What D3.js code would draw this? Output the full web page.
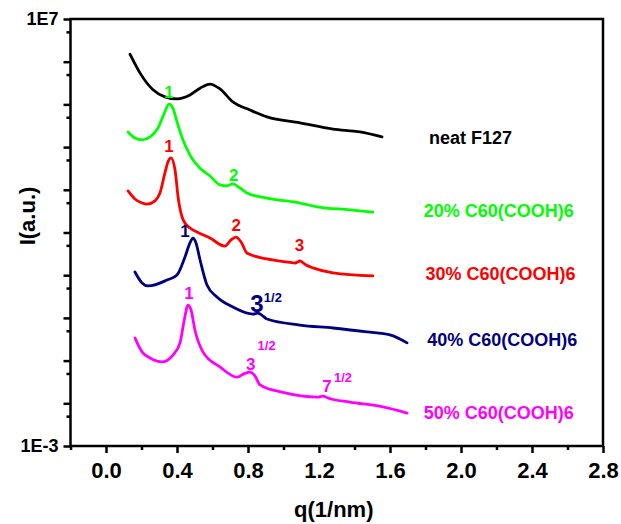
<!DOCTYPE html>
<html>
<head>
<meta charset="utf-8">
<script src="https://cdn.jsdelivr.net/npm/d3@7"></script>
<style>
  body { margin: 0; background: #fff; }
  text { font-family: "Liberation Sans", Arial, sans-serif; font-weight: bold; }
</style>
</head>
<body>
<script>
// SAXS curves, q in 1/nm, intensity in a.u. (offset per sample)
var qNeat = [0.135, 0.192, 0.265, 0.332, 0.40, 0.473, 0.53, 0.586, 0.642, 0.715, 0.811, 0.907, 1.093, 1.279, 1.431, 1.555]
var iNeat = [1.5e6, 5.4e5, 2.2e5, 1.5e5, 1.34e5, 1.66e5, 2.4e5, 3.0e5, 2.3e5, 1.14e5, 7.4e4, 5.1e4, 3.7e4, 2.65e4, 2.26e4, 1.73e4]

var q20 = [0.124, 0.163, 0.203, 0.248, 0.293, 0.327, 0.355, 0.377, 0.40, 0.434, 0.473, 0.53, 0.586, 0.642, 0.676, 0.715, 0.755, 0.794, 0.907, 1.093, 1.189, 1.375, 1.504]
var i20 = [2.26e4, 1.63e4, 1.47e4, 1.73e4, 2.8e4, 6.0e4, 1.02e5, 8.2e4, 3.9e4, 1.47e4, 6.5e3, 3.2e3, 2.1e3, 1.3e3, 1.23e3, 1.37e3, 1.1e3, 840, 640, 490, 400, 340, 300]

var q30 = [0.124, 0.163, 0.203, 0.231, 0.276, 0.304, 0.332, 0.349, 0.366, 0.389, 0.406, 0.434, 0.473, 0.513, 0.586, 0.67, 0.704, 0.732, 0.761, 0.794, 0.907, 1.037, 1.065, 1.093, 1.127, 1.166, 1.279, 1.504]
var i30 = [940, 610, 490, 460, 550, 840, 2500, 4500, 5600, 2900, 680, 200, 127, 103, 74, 48, 67, 78, 60, 33, 24, 20, 19.3, 21.5, 17.3, 14.8, 11.3, 9.6]

var q40 = [0.163, 0.203, 0.237, 0.344, 0.40, 0.445, 0.473, 0.49, 0.507, 0.53, 0.569, 0.625, 0.715, 0.828, 0.856, 0.885, 0.907, 1.093, 1.279, 1.47, 1.60, 1.696]
var i40 = [11.9, 6.6, 5.6, 7.7, 10.1, 26.7, 57, 74, 57, 22.7, 5.9, 3.1, 1.8, 1.23, 1.3, 1.1, 0.94, 0.68, 0.58, 0.47, 0.40, 0.26]

var q50 = [0.163, 0.203, 0.248, 0.315, 0.377, 0.417, 0.439, 0.462, 0.479, 0.501, 0.546, 0.642, 0.738, 0.777, 0.811, 0.839, 0.868, 0.997, 1.194, 1.223, 1.25, 1.375, 1.56, 1.696]
var i50 = [0.34, 0.16, 0.115, 0.093, 0.135, 0.26, 0.80, 2.0, 1.53, 0.52, 0.16, 0.071, 0.041, 0.049, 0.054, 0.044, 0.027, 0.018, 0.014, 0.0148, 0.0133, 0.0107, 0.0082, 0.0059]

var seriesNames = ['neat F127', '20% C60(COOH)6', '30% C60(COOH)6', '40% C60(COOH)6', '50% C60(COOH)6']
var seriesColors = ['#000000', '#00ff00', '#ff0000', '#000080', '#ff00ff']
var seriesQ = [qNeat, q20, q30, q40, q50]
var seriesI = [iNeat, i20, i30, i40, i50]
// legend labels sit at these intensities, right of the curves
var legendQ = [1.82, 1.79, 1.80, 1.81, 1.79]
var legendI = [1.2e4, 230, 7.7, 0.22, 4.3e-3]

// peak index labels
var peakQ = [0.355, 0.72, 0.355, 0.734, 1.09, 0.445, 0.85, 0.468, 0.815, 1.245]
var peakI = [1.4e5, 1.6e3, 7.8e3, 110, 37, 80, 1.4, 2.8, 0.06, 0.018]
var peakText = ['1', '2', '1', '2', '3', '1', '3', '1', '3', '7']
var peakSup = ['', '', '', '', '', '', '1/2', '', '1/2', '1/2']
var peakSeries = [1, 1, 2, 2, 2, 3, 3, 4, 4, 4]

var xTicks = [0.0, 0.4, 0.8, 1.2, 1.6, 2.0, 2.4, 2.8]
var xMinor = [-0.2, 0.2, 0.6, 1.0, 1.4, 1.8, 2.2, 2.6]
var yTicks = [1e-3, 1e-2, 1e-1, 1, 1e1, 1e2, 1e3, 1e4, 1e5, 1e6, 1e7]
var yMinor = [5e-3, 5e-2, 5e-1, 5, 5e1, 5e2, 5e3, 5e4, 5e5, 5e6]

var width = 621, height = 524
var plotLeft = 70.5, plotRight = 603, plotTop = 19, plotBottom = 446

var svg = d3.select('body').append('svg')
  .attr('width', width)
  .attr('height', height)

var x = d3.scaleLinear().domain([-0.2, 2.8]).range([plotLeft, plotRight])
var y = d3.scaleLog().domain([1e-3, 1e7]).range([plotBottom, plotTop])

// curves
var line = d3.line()
  .x(function (d) { return x(d[0]) })
  .y(function (d) { return y(d[1]) })
  .curve(d3.curveMonotoneX)

seriesQ.forEach(function (qs, k) {
  var pts = qs.map(function (q, j) { return [q, seriesI[k][j]] })
  svg.append('path')
    .attr('d', line(pts))
    .attr('fill', 'none')
    .attr('stroke', seriesColors[k])
    .attr('stroke-width', 2.8)
    .attr('stroke-linejoin', 'round')
    .attr('stroke-linecap', 'round')
})

// legend texts
seriesNames.forEach(function (name, k) {
  svg.append('text')
    .attr('x', x(legendQ[k]))
    .attr('y', y(legendI[k]))
    .attr('fill', seriesColors[k])
    .attr('font-size', 18)
    .text(name)
})

// peak labels
peakText.forEach(function (t, k) {
  var big = peakSup[k] !== '' && peakSeries[k] === 3
  svg.append('text')
    .attr('x', x(peakQ[k]))
    .attr('y', y(peakI[k]))
    .attr('fill', seriesColors[peakSeries[k]])
    .attr('text-anchor', 'middle')
    .attr('font-size', big ? 24 : 17)
    .text(t)
  if (peakSup[k] !== '') {
    var dy = peakSeries[k] === 4 && t === '3' ? -20 : -10
    svg.append('text')
      .attr('x', x(peakQ[k]) + 16)
      .attr('y', y(peakI[k]) + dy)
      .attr('fill', seriesColors[peakSeries[k]])
      .attr('text-anchor', 'middle')
      .attr('font-size', 13)
      .text(peakSup[k])
  }
})

// frame
svg.append('rect')
  .attr('x', plotLeft)
  .attr('y', plotTop)
  .attr('width', plotRight - plotLeft)
  .attr('height', plotBottom - plotTop)
  .attr('fill', 'none')
  .attr('stroke', '#000')
  .attr('stroke-width', 2.5)

// x axis
var xAxis = svg.append('g')
  .attr('transform', 'translate(0,' + plotBottom + ')')
  .call(d3.axisBottom(x).tickValues(xTicks).tickSize(7).tickFormat(d3.format('.1f')))
xAxis.attr('font-size', 22)
xAxis.selectAll('text').attr('dy', '1.0em')
svg.append('g')
  .attr('transform', 'translate(0,' + plotBottom + ')')
  .call(d3.axisBottom(x).tickValues(xMinor).tickSize(4).tickFormat(''))

// y axis
var yAxis = svg.append('g')
  .attr('transform', 'translate(' + plotLeft + ',0)')
  .call(d3.axisLeft(y).tickValues(yTicks).tickSize(7)
    .tickFormat(function (d) { return d === 1e7 ? '1E7' : d === 1e-3 ? '1E-3' : '' }))
yAxis.attr('font-size', 18)
yAxis.selectAll('text').attr('x', -12)
svg.append('g')
  .attr('transform', 'translate(' + plotLeft + ',0)')
  .call(d3.axisLeft(y).tickValues(yMinor).tickSize(4).tickFormat(''))

svg.selectAll('.domain').remove()
svg.selectAll('.tick line').attr('stroke-width', 2.5)
svg.selectAll('g').attr('font-family', null)

// axis titles
svg.append('text')
  .attr('x', (plotLeft + plotRight) / 2 - 3)
  .attr('y', 517)
  .attr('text-anchor', 'middle')
  .attr('font-size', 22)
  .text('q(1/nm)')

svg.append('text')
  .attr('transform', 'translate(35,216) rotate(-90)')
  .attr('text-anchor', 'middle')
  .attr('font-size', 22)
  .text('I(a.u.)')
</script>
</body>
</html>
